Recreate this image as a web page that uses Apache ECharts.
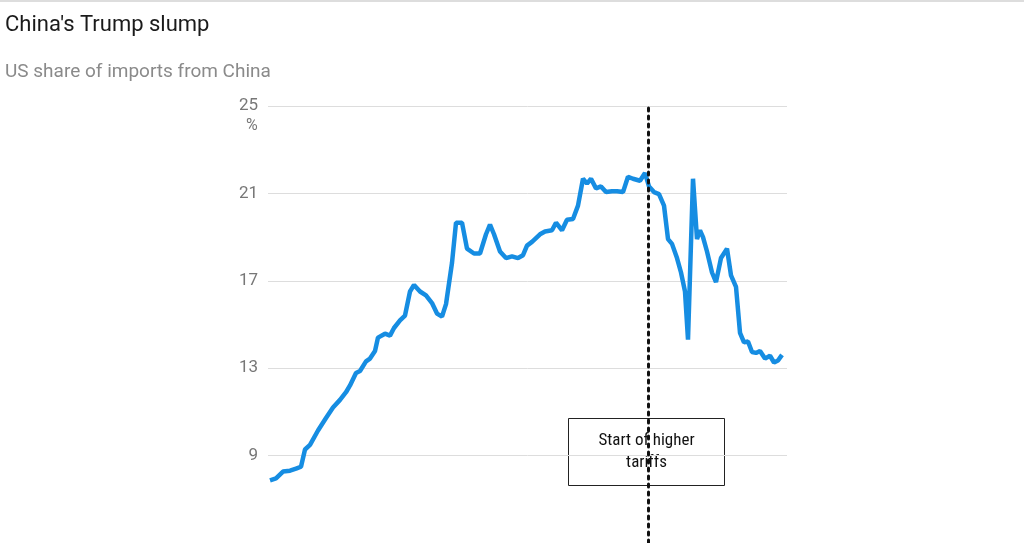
<!DOCTYPE html>
<html><head><meta charset="utf-8">
<script src="https://cdn.jsdelivr.net/npm/echarts@6/dist/echarts.min.js"></script>
<style>html,body{margin:0;padding:0;background:#fff}#c{width:1024px;height:543px}</style>
</head><body><div id="c"></div>
<script>
const title = "China's Trump slump";
const subtitle = "US share of imports from China";
const yTicks = [9, 13, 17, 21, 25];
const tariffStart = 75.6;
const annotation = "Start of higher\ntariffs";
const periods = [0,1.2,2.6,4,5.2,6.2,7,8,9.6,11.2,12.6,14,15.2,16,17.2,18,19.2,20,21,21.6,23,24,24.8,26,27,28,28.8,30,31.2,32.4,33.4,34.4,35.2,36.4,37.2,38.4,39.4,40.8,42,43.2,44,44.8,46,47.2,48.4,49.6,50.6,51.4,52.4,54,55,56.4,57.2,58.4,59.4,60.6,61.6,62.6,63.4,64.2,65.2,66.2,67.2,68.4,69.4,70.6,71.6,72.6,74,75,75.8,76.8,77.8,78.8,79.6,80.4,81.4,82.2,83,83.6,84.6,85.4,86,86.6,87.4,88.4,89.2,90.2,91.4,92.2,93.2,94,94.8,95.6,96.4,97.2,98,99,100,100.8,101.6,102.4];
const share = [7.87,7.96,8.27,8.31,8.40,8.49,9.28,9.49,10.15,10.72,11.20,11.55,11.90,12.21,12.78,12.87,13.31,13.44,13.79,14.40,14.58,14.49,14.84,15.19,15.41,16.51,16.81,16.51,16.33,15.98,15.50,15.36,15.93,17.82,19.66,19.66,18.47,18.25,18.25,19.13,19.57,19.13,18.34,18.04,18.12,18.04,18.17,18.61,18.78,19.13,19.26,19.31,19.66,19.31,19.79,19.83,20.44,21.67,21.45,21.67,21.23,21.32,21.06,21.10,21.10,21.06,21.76,21.67,21.58,21.93,21.32,21.06,20.97,20.44,18.91,18.69,18.04,17.38,16.51,14.31,21.67,18.91,19.31,19.00,18.34,17.38,16.94,18.04,18.47,17.25,16.72,14.62,14.18,14.22,13.74,13.70,13.79,13.44,13.57,13.26,13.35,13.61];

const chart = echarts.init(document.getElementById('c'));
chart.setOption({
  animation: false,
  backgroundColor: '#fff',
  title: [
    {text: title, left: 0, top: 9, textStyle: {fontFamily: 'Roboto', fontSize: 22, fontWeight: 'normal', color: '#1a1a1a'}},
    {text: subtitle, left: 0, top: 58, textStyle: {fontFamily: 'Roboto', fontSize: 19, fontWeight: 'normal', color: '#8a8a8a'}}
  ],
  graphic: [
    {type: 'line', shape: {x1: 0, y1: 1, x2: 1024, y2: 1}, style: {stroke: '#bbb', lineWidth: 1}},
    {type: 'text', left: 246, top: 118, style: {text: '%', fontFamily: 'Roboto', fontSize: 16, fill: '#777'}},
    {type: 'group', left: 568, top: 418, z: 100, children: [
      {type: 'rect', shape: {x: 0, y: 0, width: 156, height: 67}, style: {fill: '#fff', stroke: '#222', lineWidth: 1}},
      {type: 'text', x: 78, y: 33, style: {text: annotation, align: 'center', verticalAlign: 'middle', fontFamily: 'Roboto Condensed, Roboto', fontSize: 17, lineHeight: 22, fill: '#111'}}
    ]}
  ],
  grid: {left: 268, right: 237, top: 106, height: 456.5, containLabel: false},
  xAxis: {type: 'value', min: -0.4, max: 103.4, show: false},
  yAxis: {
    type: 'value', min: 5, max: 25, interval: 4,
    axisLine: {show: false}, axisTick: {show: false},
    axisLabel: {color: '#777', fontFamily: 'Roboto', fontSize: 17, margin: 10,
      formatter: v => yTicks.includes(v) ? String(v) : ''},
    splitLine: {lineStyle: {color: '#ddd', width: 1}}
  },
  series: [{
    type: 'line', data: periods.map((p, i) => [p, share[i]]),
    showSymbol: false, lineStyle: {color: '#168de2', width: 4.5}, itemStyle: {color: '#168de2'},
    markLine: {silent: true, symbol: 'none', label: {show: false},
      lineStyle: {type: [3, 5], color: '#111', width: 3, cap: 'round'},
      data: [{xAxis: tariffStart}]}
  }]
});
</script></body></html>
